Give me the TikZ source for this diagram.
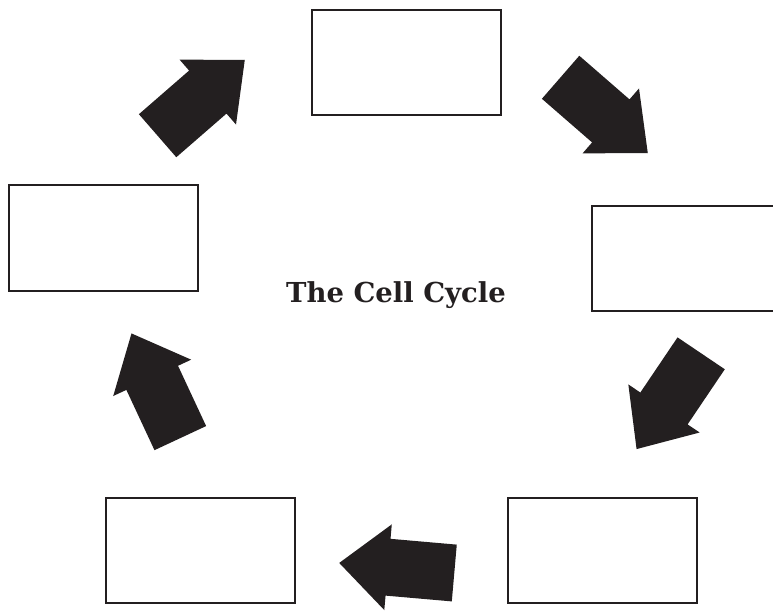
\documentclass[tikz,border=0pt]{standalone}
\usepackage{fontspec}
\newfontfamily\titlefont{DejaVu Serif}
\usepackage{tikz}
\definecolor{ink}{HTML}{231F20}

\newcommand{\turnarrow}[3]{%
  \begin{scope}[shift={(#2)},rotate=#3]
    \fill[ink] (-57.5,28.5) -- (9,28.5) -- (9,43) -- (58,0) -- (9,-43)
      -- (9,-28.5) -- (-57.5,-28.5) -- cycle;
    \coordinate (#1) at (0,0);
  \end{scope}}

\begin{document}
\begin{tikzpicture}[x=0.75pt,y=0.75pt,
    stage/.style={draw=ink,line width=1.5pt,minimum width=141.75pt,minimum height=78.75pt,inner sep=0pt}]
  \clip (0,0) rectangle (773,611);
  \node[stage] (top) at (406,548) {};
  \node[stage] (right) at (686,352.5) {};
  \node[stage] (botright) at (602,61) {};
  \node[stage] (botleft) at (200.5,61) {};
  \node[stage] (left) at (103.5,373) {};
  \turnarrow{a1}{201,513}{41}
  \turnarrow{a2}{604,496}{-41}
  \turnarrow{a3}{669,210}{-124}
  \turnarrow{a4}{397,43}{175}
  \turnarrow{a5}{156,225}{115}
  \node[text=ink] (title) at (396,316) {\titlefont\bfseries\fontsize{20.6}{24}\selectfont The Cell Cycle};
\end{tikzpicture}
\end{document}
